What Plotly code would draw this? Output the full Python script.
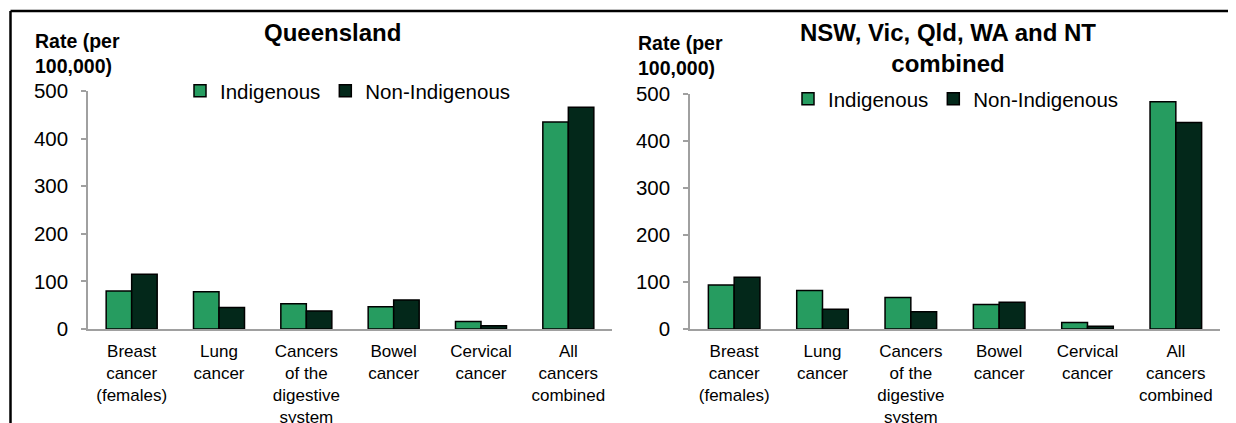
import plotly.graph_objects as go

# data
categories = ["Breast cancer (females)", "Lung cancer", "Cancers of the digestive system",
              "Bowel cancer", "Cervical cancer", "All cancers combined"]
tick_labels = ["Breast<br>cancer<br>(females)", "Lung<br>cancer", "Cancers<br>of the<br>digestive<br>system",
               "Bowel<br>cancer", "Cervical<br>cancer", "All<br>cancers<br>combined"]
qld_indigenous = [80, 78, 53, 47, 16, 435]
qld_non_indigenous = [115, 45, 38, 61, 7, 466]
comb_indigenous = [94, 82, 67, 52, 14, 484]
comb_non_indigenous = [110, 42, 37, 57, 6, 440]

W, H = 1236, 423
OFF = 8  # page body margin
GREEN = "#269C60"
DARK = "#03281A"
AXIS_GREY = "#A0A0A0"
FONT = "Liberation Sans, Arial, sans-serif"


# screen pixels -> paper coords
def px_x(v):
    return (v - OFF) / W


def px_y(v):
    return (H - (v - OFF)) / H


fig = go.Figure()

fig.add_trace(go.Bar(x=categories, y=qld_indigenous, name="Indigenous", marker_color=GREEN,
                     marker_line=dict(color="black", width=1.5), xaxis="x", yaxis="y", legend="legend"))
fig.add_trace(go.Bar(x=categories, y=qld_non_indigenous, name="Non-Indigenous", marker_color=DARK,
                     marker_line=dict(color="black", width=1.5), xaxis="x", yaxis="y", legend="legend"))
fig.add_trace(go.Bar(x=categories, y=comb_indigenous, name="Indigenous", marker_color=GREEN,
                     marker_line=dict(color="black", width=1.5), xaxis="x2", yaxis="y2", legend="legend2"))
fig.add_trace(go.Bar(x=categories, y=comb_non_indigenous, name="Non-Indigenous", marker_color=DARK,
                     marker_line=dict(color="black", width=1.5), xaxis="x2", yaxis="y2", legend="legend2"))

xaxis_style = dict(showline=True, linecolor=AXIS_GREY, linewidth=1.5, ticks="", showgrid=False,
                   tickmode="array", tickvals=categories, ticktext=tick_labels, automargin=False,
                   tickfont=dict(size=17, color="black", family=FONT), tickangle=0,
                   ticklabelstandoff=6)
yaxis_style = dict(range=[0, 500], dtick=100, showline=True, linecolor=AXIS_GREY, linewidth=1.5,
                   ticks="outside", ticklen=5, tickcolor=AXIS_GREY, tickwidth=1.5, showgrid=False,
                   zeroline=False, tickfont=dict(size=20.5, color="black", family=FONT),
                   ticklabelstandoff=9, automargin=False)

legend_style = dict(orientation="h", yanchor="middle", xanchor="left", bgcolor="rgba(0,0,0,0)",
                    font=dict(size=20.5, color="black", family=FONT), itemclick=False)

fig.update_layout(
    width=W, height=H,
    margin=dict(l=0, r=0, t=0, b=0, autoexpand=False),
    paper_bgcolor="white", plot_bgcolor="white",
    barmode="group", bargap=0.416, bargroupgap=0,
    font=dict(family=FONT, color="black"),
    xaxis=dict(domain=[px_x(88), px_x(612)], anchor="y", **xaxis_style),
    yaxis=dict(domain=[px_y(329), px_y(91)], anchor="x", **yaxis_style),
    xaxis2=dict(domain=[px_x(690), px_x(1220)], anchor="y2", **xaxis_style),
    yaxis2=dict(domain=[px_y(329), px_y(94.3)], anchor="x2", **yaxis_style),
    legend=dict(x=px_x(180), y=px_y(91), **legend_style),
    legend2=dict(x=px_x(788), y=px_y(99), **legend_style),
)

# titles and y-axis labels
fig.add_annotation(text="<b>Queensland</b>", x=px_x(332), y=px_y(33), xref="paper", yref="paper",
                   showarrow=False, xanchor="center", yanchor="middle",
                   font=dict(size=24, color="black", family=FONT))
fig.add_annotation(text="<b>NSW, Vic, Qld, WA and NT<br>combined</b>", x=px_x(948), y=px_y(48),
                   xref="paper", yref="paper", showarrow=False, xanchor="center", yanchor="middle",
                   font=dict(size=24, color="black", family=FONT))
for left, mid in [(33, 53), (636, 55)]:
    fig.add_annotation(text="<b>Rate (per<br>100,000)</b>", x=px_x(left), y=px_y(mid), xref="paper",
                       yref="paper", showarrow=False, xanchor="left", yanchor="middle", align="left",
                       font=dict(size=19.5, color="black", family=FONT))

# outer frame (top and left edges visible in the crop)
fig.add_shape(type="line", xref="paper", yref="paper", x0=px_x(10.5), x1=1, y0=px_y(11), y1=px_y(11),
              line=dict(color="black", width=2.5))
fig.add_shape(type="line", xref="paper", yref="paper", x0=px_x(10.5), x1=px_x(10.5), y0=0, y1=px_y(11),
              line=dict(color="black", width=2.5))

fig.write_html("out.html")
